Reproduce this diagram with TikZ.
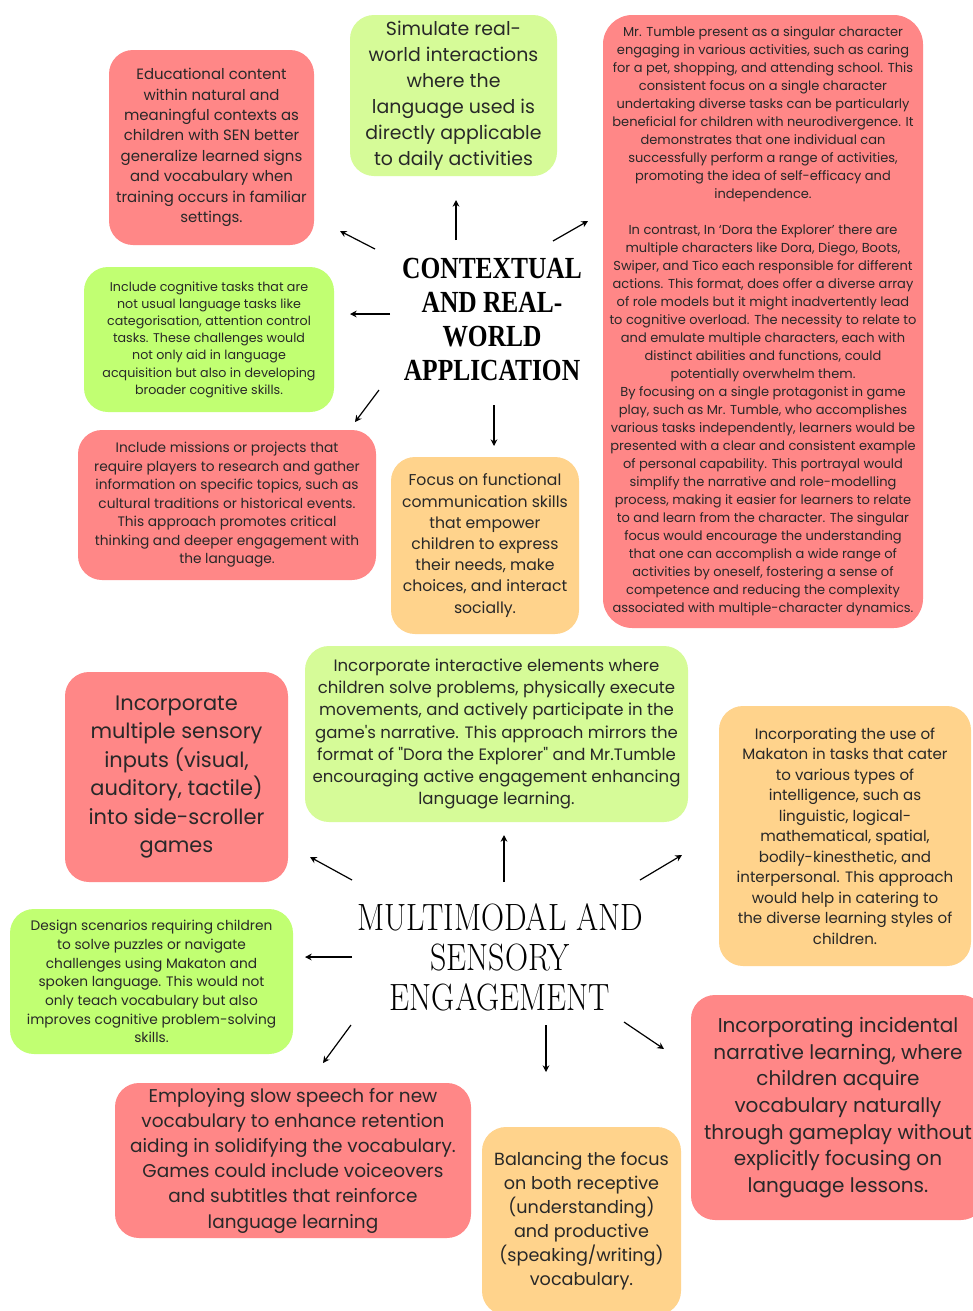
\documentclass[tikz,border=0pt]{standalone}
\usepackage{fontspec}
\setmainfont{Poppins}[Ligatures=TeXOff]
\newfontfamily\ctxfont[FakeStretch=0.83]{Liberation Serif}
\newfontfamily\mmfont[FakeStretch=0.84]{Latin Modern Roman}
\usetikzlibrary{arrows.meta}
\definecolor{boxred}{RGB}{255,135,135}
\definecolor{boxlime}{RGB}{214,251,152}
\definecolor{boxgreen}{RGB}{193,255,114}
\definecolor{boxorange}{RGB}{255,211,140}
\definecolor{textgrey}{RGB}{40,40,40}
\newcommand{\fsz}[2]{\fontsize{#1}{#2}\selectfont}
\tikzset{
  card/.style={rectangle, rounded corners=18pt, align=center, inner sep=0pt, text=textgrey},
  redcard/.style={card, fill=boxred},
  limecard/.style={card, fill=boxlime},
  greencard/.style={card, fill=boxgreen},
  orangecard/.style={card, fill=boxorange},
  cardsize/.style 2 args={minimum width=#1*0.75pt, minimum height=#2*0.75pt},
  arrow/.style={-{Stealth[length=5pt,width=5pt]}, line width=0.9pt, color=black}
}

\begin{document}
\begin{tikzpicture}[x=0.75pt, y=-0.75pt]
  \useasboundingbox[fill=white] (0,0) rectangle (972,1311);

  % Contextual and real-world application
  \node[align=center, font={\ctxfont\bfseries\fsz{23}{25.5}}] (ctx) at (492,319)
    {CONTEXTUAL\\AND REAL-\\WORLD\\APPLICATION};

  \node[redcard, cardsize={205}{195}, font={\fsz{11.2}{15.3}}] (edu) at (211.5,147.5)
    {Educational content\\within natural and\\meaningful contexts as\\children with SEN better\\generalize learned signs\\and vocabulary when\\training occurs in familiar\\settings.};
  \node[limecard, cardsize={207}{161}, font={\fsz{14.2}{19.5}}] (sim) at (453.5,95.5)
    {Simulate real-\\world interactions\\where the\\language used is\\directly applicable\\to daily activities};
  \node[redcard, rounded corners=22pt, cardsize={320}{613}, font={\fsz{9.75}{13.5}}] (tumble) at (763,321.5)
    {Mr. Tumble present as a singular character\\
     engaging in various activities, such as caring\\
     for a pet, shopping, and attending school. This\\
     consistent focus on a single character\\
     undertaking diverse tasks can be particularly\\
     beneficial for children with neurodivergence. It\\
     demonstrates that one individual can\\
     successfully perform a range of activities,\\
     promoting the idea of self-efficacy and\\
     independence.\\[13.5pt]
     In contrast, In ‘Dora the Explorer’ there are\\
     multiple characters like Dora, Diego, Boots,\\
     Swiper, and Tico each responsible for different\\
     actions. This format, does offer a diverse array\\
     of role models but it might inadvertently lead\\
     to cognitive overload. The necessity to relate to\\
     and emulate multiple characters, each with\\
     distinct abilities and functions, could\\
     potentially overwhelm them.\\
     By focusing on a single protagonist in game\\
     play, such as Mr. Tumble, who accomplishes\\
     various tasks independently, learners would be\\
     presented with a clear and consistent example\\
     of personal capability. This portrayal would\\
     simplify the narrative and role-modelling\\
     process, making it easier for learners to relate\\
     to and learn from the character. The singular\\
     focus would encourage the understanding\\
     that one can accomplish a wide range of\\
     activities by oneself, fostering a sense of\\
     competence and reducing the complexity\\
     associated with multiple-character dynamics.};
  \node[greencard, cardsize={250}{145}, font={\fsz{9.5}{12.9}}] (cogn) at (209,339.5)
    {Include cognitive tasks that are\\not usual language tasks like\\categorisation, attention control\\tasks. These challenges would\\not only aid in language\\acquisition but also in developing\\broader cognitive skills.};
  \node[redcard, cardsize={298}{150}, font={\fsz{10.3}{13.9}}] (miss) at (227,505)
    {Include missions or projects that\\require players to research and gather\\information on specific topics, such as\\cultural traditions or historical events.\\This approach promotes critical\\thinking and deeper engagement with\\the language.};
  \node[orangecard, cardsize={188}{177}, font={\fsz{11.75}{15.9}}] (focus) at (485,545.5)
    {Focus on functional\\communication skills\\that empower\\children to express\\their needs, make\\choices, and interact\\socially.};

  % Multimodal and sensory engagement
  \node[align=center, font={\mmfont\fsz{28.5}{30}}] (mm) at (500,957)
    {MULTIMODAL AND\\SENSORY\\ENGAGEMENT};

  \node[redcard, cardsize={223}{210}, font={\fsz{15.7}{21.3}}] (sens) at (176.5,777)
    {Incorporate\\multiple sensory\\inputs (visual,\\auditory, tactile)\\into side-scroller\\games};
  \node[limecard, cardsize={383}{176}, font={\fsz{12.4}{16.7}}] (inter) at (496.5,734)
    {Incorporate interactive elements where\\children solve problems, physically execute\\movements, and actively participate in the\\game's narrative. This approach mirrors the\\format of "Dora the Explorer" and Mr.Tumble\\encouraging active engagement enhancing\\language learning.};
  \node[orangecard, cardsize={252}{260}, font={\fsz{11.3}{15.4}}] (mak) at (845,836)
    {Incorporating the use of\\Makaton in tasks that cater\\to various types of\\intelligence, such as\\linguistic, logical-\\mathematical, spatial,\\bodily-kinesthetic, and\\interpersonal. This approach\\would help in catering to\\the diverse learning styles of\\children.};
  \node[greencard, cardsize={283}{145}, font={\fsz{10.3}{14}}] (design) at (151.5,981.5)
    {Design scenarios requiring children\\to solve puzzles or navigate\\challenges using Makaton and\\spoken language. This would not\\only teach vocabulary but also\\improves cognitive problem-solving\\skills.};
  \node[redcard, cardsize={356}{155}, font={\fsz{13.85}{18.9}}] (slow) at (293,1160.5)
    {Employing slow speech for new\\vocabulary to enhance retention\\aiding in solidifying the vocabulary.\\Games could include voiceovers\\and subtitles that reinforce\\language learning};
  \node[orangecard, cardsize={199}{188}, font={\fsz{13.2}{18}}] (bal) at (581.5,1221)
    {Balancing the focus\\on both receptive\\(understanding)\\and productive\\(speaking/writing)\\vocabulary.};
  \node[redcard, cardsize={294}{225}, font={\fsz{15}{20}}] (incid) at (838,1107.5)
    {Incorporating incidental\\narrative learning, where\\children acquire\\vocabulary naturally\\through gameplay without\\explicitly focusing on\\language lessons.};

  % Arrow ends
  \coordinate (t1s) at (456,240);  \coordinate (t1e) at (456,200);
  \coordinate (t2s) at (375,249);  \coordinate (t2e) at (340,231);
  \coordinate (t3s) at (553,241);  \coordinate (t3e) at (588,221);
  \coordinate (t4s) at (390,314);  \coordinate (t4e) at (350,314);
  \coordinate (t5s) at (379,390);  \coordinate (t5e) at (355,422);
  \coordinate (t6s) at (494,405);  \coordinate (t6e) at (494,446);
  \coordinate (b1s) at (504,882);  \coordinate (b1e) at (504,835);
  \coordinate (b2s) at (352,880);  \coordinate (b2e) at (310,857);
  \coordinate (b3s) at (640,880);  \coordinate (b3e) at (682,855);
  \coordinate (b4s) at (352,957);  \coordinate (b4e) at (305,957);
  \coordinate (b5s) at (351,1025); \coordinate (b5e) at (323,1063);
  \coordinate (b6s) at (546,1025); \coordinate (b6e) at (546,1072);
  \coordinate (b7s) at (624,1022); \coordinate (b7e) at (664,1049);

  % Arrows
  \draw[arrow] (t1s) -- (t1e);
  \draw[arrow] (t2s) -- (t2e);
  \draw[arrow] (t3s) -- (t3e);
  \draw[arrow] (t4s) -- (t4e);
  \draw[arrow] (t5s) -- (t5e);
  \draw[arrow] (t6s) -- (t6e);
  \draw[arrow] (b1s) -- (b1e);
  \draw[arrow] (b2s) -- (b2e);
  \draw[arrow] (b3s) -- (b3e);
  \draw[arrow] (b4s) -- (b4e);
  \draw[arrow] (b5s) -- (b5e);
  \draw[arrow] (b6s) -- (b6e);
  \draw[arrow] (b7s) -- (b7e);
\end{tikzpicture}
\end{document}
